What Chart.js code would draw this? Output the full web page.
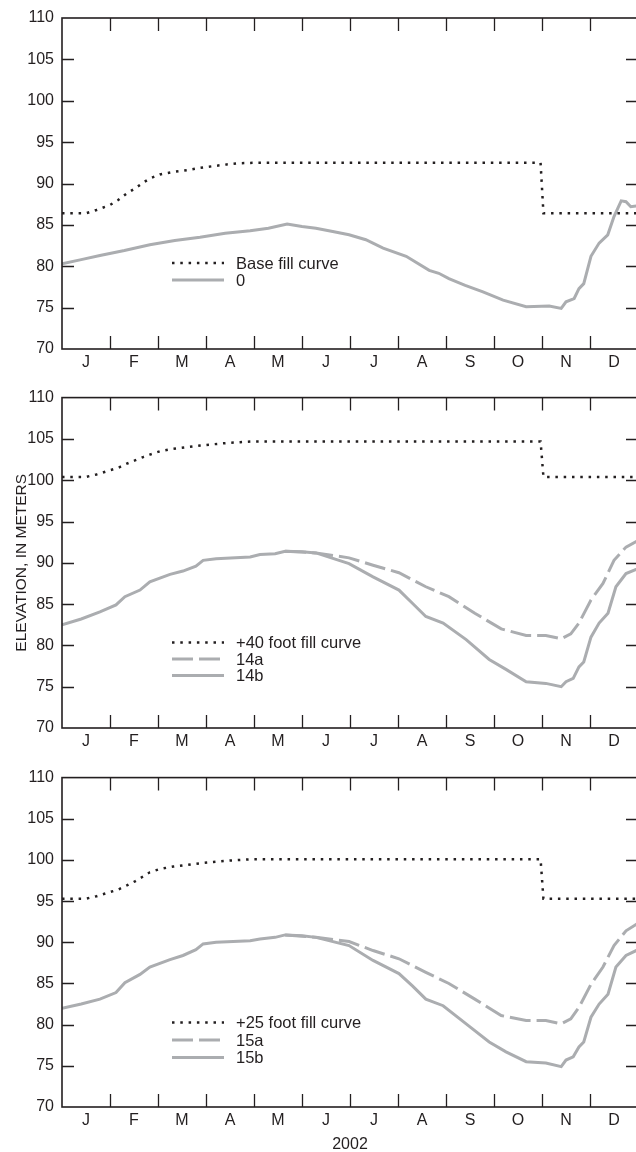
<!DOCTYPE html>
<html>
<head>
<meta charset="utf-8">
<script src="https://cdn.jsdelivr.net/npm/chart.js@4/dist/chart.umd.min.js"></script>
<style>
  html, body { margin: 0; padding: 0; background: #fff; overflow: hidden; }
  body { width: 636px; height: 1152px; position: relative; }
  .panel { position: absolute; left: 0; width: 640px; }
  canvas { display: block; }
</style>
</head>
<body>
<div class="panel" style="top:0"><canvas id="panel-base" width="640" height="380"></canvas></div>
<div class="panel" style="top:380px"><canvas id="panel-40" width="640" height="380"></canvas></div>
<div class="panel" style="top:760px"><canvas id="panel-25" width="640" height="400"></canvas></div>
<script>
// months run 0..12 along x (0 = Jan 1)
const monthLabels = ['J', 'F', 'M', 'A', 'M', 'J', 'J', 'A', 'S', 'O', 'N', 'D']
const monthTicks = [0.5, 1.5, 2.5, 3.5, 4.5, 5.5, 6.5, 7.5, 8.5, 9.5, 10.5, 11.5]
const monthBounds = [1, 2, 3, 4, 5, 6, 7, 8, 9, 10, 11]
const elevationTicks = [75, 80, 85, 90, 95, 100, 105]

// fill (rule) curves
const fillX = [0, 0.5, 0.72, 1.0, 1.17, 1.35, 1.52, 1.69, 1.83, 2.04, 2.32, 2.6, 2.88, 3.15, 3.43, 3.71, 4.0, 9.97, 10.03, 12]
const baseFillY = [86.4, 86.4, 86.8, 87.4, 88.0, 88.8, 89.4, 90.1, 90.6, 91.1, 91.4, 91.6, 91.9, 92.1, 92.3, 92.45, 92.5, 92.5, 86.4, 86.4]
const fill40Y = [100.4, 100.4, 100.7, 101.2, 101.5, 102.0, 102.4, 102.8, 103.1, 103.5, 103.8, 104.0, 104.2, 104.35, 104.5, 104.6, 104.7, 104.7, 100.4, 100.4]
const fill25Y = [95.3, 95.3, 95.6, 96.1, 96.4, 96.9, 97.4, 98.0, 98.5, 98.9, 99.2, 99.4, 99.6, 99.75, 99.9, 100.0, 100.1, 100.1, 95.3, 95.3]

// run 0
const run0X = [0, 0.4, 0.79, 1.3, 1.83, 2.35, 2.875, 3.4, 3.92, 4.3, 4.69, 5.0, 5.29, 5.64, 5.98, 6.33, 6.69, 7.17, 7.65, 7.85,
  8.06, 8.4, 8.77, 9.19, 9.67, 10.15, 10.4, 10.5, 10.67, 10.77, 10.87, 11.02, 11.19, 11.37, 11.5, 11.65, 11.75, 11.85, 12]
const run0Y = [80.3, 80.8, 81.3, 81.9, 82.6, 83.1, 83.5, 84.0, 84.3, 84.6, 85.1, 84.8, 84.6, 84.2, 83.8, 83.2, 82.2, 81.2, 79.5, 79.15,
  78.5, 77.7, 76.9, 75.9, 75.1, 75.2, 74.9, 75.7, 76.1, 77.3, 77.9, 81.2, 82.8, 83.8, 86.0, 87.9, 87.8, 87.2, 87.3]

// runs 14b / 15b (solid)
const solidX = [0, 0.4, 0.79, 1.125, 1.31, 1.625, 1.83, 2.25, 2.52, 2.79, 2.94, 3.21, 3.92, 4.125, 4.44, 4.65, 5.0, 5.29, 5.98, 6.48,
  7.02, 7.3, 7.58, 7.94, 8.42, 8.9, 9.25, 9.67, 10.08, 10.4, 10.5, 10.65, 10.77, 10.87, 11.02, 11.19, 11.375, 11.54, 11.75, 12]
const run14bY = [82.5, 83.2, 84.05, 84.9, 85.9, 86.7, 87.7, 88.6, 89.0, 89.6, 90.3, 90.5, 90.7, 91.0, 91.1, 91.4, 91.35, 91.2, 89.9, 88.3,
  86.7, 85.1, 83.5, 82.7, 80.7, 78.3, 77.1, 75.6, 75.4, 75.0, 75.6, 76.0, 77.4, 78.0, 81.0, 82.7, 83.9, 87.1, 88.7, 89.3]
const run15bY = [82.0, 82.5, 83.1, 83.9, 85.1, 86.1, 87.0, 87.9, 88.4, 89.1, 89.8, 90.0, 90.2, 90.4, 90.6, 90.9, 90.8, 90.6, 89.6, 87.8,
  86.2, 84.7, 83.1, 82.3, 80.1, 77.9, 76.7, 75.5, 75.35, 74.9, 75.7, 76.1, 77.3, 77.9, 80.9, 82.5, 83.7, 87.0, 88.4, 89.1]

// runs 14a / 15a (dashed), same as solid before June
const dashedX = [4.65, 5.29, 5.98, 6.48, 7.02, 7.58, 8.06, 8.6, 9.15, 9.67, 10.08, 10.4, 10.6, 10.77, 11.02, 11.27, 11.5, 11.75, 12]
const run14aY = [91.4, 91.2, 90.6, 89.7, 88.8, 87.1, 85.9, 83.9, 82.0, 81.2, 81.2, 80.8, 81.4, 82.7, 85.5, 87.5, 90.3, 91.9, 92.7]
const run15aY = [90.9, 90.6, 90.1, 89.0, 88.0, 86.35, 85.0, 83.1, 81.1, 80.5, 80.5, 80.1, 80.7, 82.1, 84.9, 87.0, 89.6, 91.4, 92.3]

const ink = '#231f20'
const gray = '#abadb0'
const sans = '"Liberation Sans", Arial, sans-serif'

Chart.defaults.font.family = sans
Chart.defaults.font.size = 16
Chart.defaults.color = ink

function points (xs, ys) {
  return xs.map((x, i) => ({ x: x, y: ys[i] }))
}

function fillSet (label, ys) {
  return { label: label, data: points(fillX, ys), borderColor: ink, borderWidth: 2.5,
    borderDash: [2.5, 5.8], borderCapStyle: 'butt' }
}
function dashedSet (label, ys) {
  return { label: label, data: points(dashedX, ys), borderColor: gray, borderWidth: 3, borderDash: [21, 6] }
}
function solidSet (label, xs, ys) {
  return { label: label, data: points(xs, ys), borderColor: gray, borderWidth: 3 }
}

// box with inward ticks on all four sides
const framePlugin = {
  id: 'frame',
  afterDatasetsDraw (chart) {
    const { ctx, chartArea: a, scales: { x, y } } = chart
    ctx.save()
    ctx.strokeStyle = ink
    ctx.lineWidth = 1.6
    ctx.strokeRect(a.left, a.top, a.width, a.height)
    ctx.lineWidth = 1.3
    ctx.beginPath()
    monthBounds.forEach(m => {
      const px = Math.round(x.getPixelForValue(m)) + 0.5
      ctx.moveTo(px, a.top); ctx.lineTo(px, a.top + 13)
      ctx.moveTo(px, a.bottom); ctx.lineTo(px, a.bottom - 13)
    })
    elevationTicks.forEach(v => {
      const py = Math.round(y.getPixelForValue(v)) + 0.5
      ctx.moveTo(a.left, py); ctx.lineTo(a.left + 12, py)
      ctx.moveTo(a.right, py); ctx.lineTo(a.right - 12, py)
    })
    ctx.stroke()
    ctx.restore()
  }
}

// legend drawn inside the plot area
const insetLegend = {
  id: 'insetLegend',
  afterDraw (chart, _args, opts) {
    const { ctx, chartArea: a } = chart
    chart.data.datasets.forEach((ds, i) => {
      const y = a.top + opts.top + i * opts.rowGap
      const x0 = a.left + opts.left
      ctx.save()
      ctx.strokeStyle = ds.borderColor
      ctx.lineWidth = ds.borderWidth
      ctx.lineCap = 'butt'
      ctx.setLineDash(ds.borderDash || [])
      ctx.beginPath(); ctx.moveTo(x0, y); ctx.lineTo(x0 + 52, y); ctx.stroke()
      ctx.fillStyle = ink
      ctx.font = '16.5px ' + sans
      ctx.textBaseline = 'middle'
      ctx.fillText(ds.label, x0 + 64, y + 1)
      ctx.restore()
    })
  }
}

function makePanel (id, datasets, o) {
  const canvas = document.getElementById(id)
  return new Chart(canvas, {
    type: 'line',
    data: { datasets: datasets },
    plugins: [framePlugin, insetLegend],
    options: {
      responsive: false,
      animation: false,
      devicePixelRatio: 1,
      events: [],
      layout: { padding: { top: o.top, left: 0, right: 2, bottom: 0 } },
      elements: { point: { radius: 0 }, line: { tension: 0 } },
      plugins: {
        legend: { display: false },
        tooltip: { enabled: false },
        insetLegend: { left: 110, top: 245, rowGap: o.rowGap }
      },
      scales: {
        x: {
          type: 'linear', min: 0, max: 12,
          grid: { display: false, drawTicks: false }, border: { display: false },
          afterBuildTicks: (scale) => { scale.ticks = monthTicks.map(v => ({ value: v })) },
          afterFit: (scale) => { scale.height = o.axisHeight },
          ticks: { autoSkip: false, maxRotation: 0, padding: 4,
            callback: (v) => monthLabels[Math.floor(v)] },
          title: { display: !!o.xTitle, text: o.xTitle || '', font: { size: 16 }, padding: { top: 0, bottom: 6 } }
        },
        y: {
          min: 70, max: 110,
          grid: { display: false, drawTicks: false }, border: { display: false },
          afterFit: (scale) => { scale.width = 62 },
          ticks: { stepSize: 5, padding: 8 },
          title: { display: !!o.yTitle, text: o.yTitle || '', font: { size: 15.5 }, padding: { top: 12, bottom: 0 } }
        }
      }
    }
  })
}

makePanel('panel-base', [
  fillSet('Base fill curve', baseFillY),
  solidSet('0', run0X, run0Y)
], { top: 18, axisHeight: 31, rowGap: 17 })

makePanel('panel-40', [
  fillSet('+40 foot fill curve', fill40Y),
  dashedSet('14a', run14aY),
  solidSet('14b', solidX, run14bY)
], { top: 17, axisHeight: 32, rowGap: 16.5, yTitle: 'ELEVATION, IN METERS' })

makePanel('panel-25', [
  fillSet('+25 foot fill curve', fill25Y),
  dashedSet('15a', run15aY),
  solidSet('15b', solidX, run15bY)
], { top: 16, axisHeight: 53, rowGap: 17.5, xTitle: '2002' })
</script>
</body>
</html>
